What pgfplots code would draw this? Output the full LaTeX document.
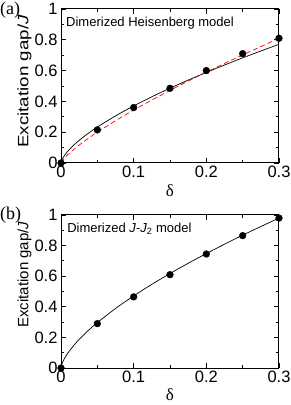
\documentclass[border=0pt]{standalone}
\usepackage{pgfplots}
\pgfplotsset{compat=1.18}
\usepackage{fontspec}
\setmainfont{Liberation Sans}
\newfontfamily\seriffont{Liberation Serif}
\pgfplotsset{
  gapstyle/.style={
    scale only axis, width=218pt,
    xmin=0, xmax=0.3, ymin=0, ymax=1,
    xtick={0,0.1,0.2,0.3}, ytick={0,0.2,0.4,0.6,0.8,1},
    minor x tick num=1, minor y tick num=1,
    tick align=inside, major tick length=5pt, minor tick length=3pt,
    tick style={line width=0.8pt, black},
    axis line style={line width=1pt},
    /pgf/number format/assume math mode=true,
    /pgf/number format/fixed,
    ticklabel style={font=\fontsize{16.5}{16.5}\selectfont},
    xticklabel style={yshift=1pt},
    yticklabel style={xshift=0pt},
    clip=false,
    xlabel={\seriffont\fontsize{17}{17}\selectfont δ},
  },
}
\begin{document}
\begin{tikzpicture}[x=1pt,y=1pt]
\useasboundingbox (0,0) rectangle (291,405);
% panel (a)
\begin{axis}[gapstyle, height=154pt, at={(61pt,242pt)}, anchor=south west,
  ylabel={\scalebox{1.25}[1]{\fontsize{15}{15}\selectfont Excitation gap/\textit{J}}},
  ylabel style={at={(axis description cs:-0.168,0.53)}, anchor=center},
  xlabel style={at={(axis description cs:0.5,-0.18)}, anchor=center},
]
\addplot[black, line width=0.7pt, smooth] coordinates {
(0,0) (0.001,0.0172) (0.0025,0.0317) (0.005,0.0502) (0.01,0.0798) (0.02,0.1268)
(0.03,0.166) (0.04,0.2012) (0.05,0.2334) (0.075,0.3058) (0.1,0.3705) (0.125,0.43)
(0.15,0.4856) (0.175,0.5382) (0.2,0.5882) (0.225,0.6362) (0.25,0.6827) (0.275,0.7272) (0.3,0.7707)};
\addplot[red, line width=0.7pt, dashed, dash pattern=on 5pt off 3pt, smooth] coordinates {
(0,0) (0.005,0.0332) (0.01,0.057) (0.02,0.098) (0.03,0.134) (0.04,0.168) (0.05,0.200)
(0.075,0.2745) (0.1,0.3435) (0.125,0.409) (0.15,0.4714) (0.175,0.5316) (0.2,0.590)
(0.225,0.6467) (0.25,0.702) (0.275,0.756) (0.3,0.81)};
\addplot[only marks, mark=*, mark size=3.4pt, black] coordinates {
(0,0) (0.05,0.215) (0.1,0.36) (0.15,0.485) (0.2,0.60) (0.25,0.71) (0.3,0.81)};
\node[anchor=west, font=\fontsize{13}{13}\selectfont, inner sep=0pt] at (axis description cs:0.023,0.909) {Dimerized Heisenberg model};
\end{axis}
\node[anchor=north west, inner sep=0pt, font=\seriffont\fontsize{18}{18}\selectfont] at (0,403) {(a)};
% panel (b)
\begin{axis}[gapstyle, height=153pt, at={(61pt,37pt)}, anchor=south west,
  ylabel={\fontsize{15}{15}\selectfont Excitation gap/\textit{J}},
  ylabel style={at={(axis description cs:-0.168,0.61)}, anchor=center},
  xlabel style={at={(axis description cs:0.5,-0.175)}, anchor=center},
]
\addplot[black, line width=0.7pt, smooth] coordinates {
(0,0) (0.001,0.0219) (0.0025,0.0402) (0.005,0.0639) (0.01,0.1015) (0.02,0.1612)
(0.03,0.2110) (0.04,0.2559) (0.05,0.2968) (0.075,0.3888) (0.1,0.4711) (0.125,0.5468)
(0.15,0.6174) (0.175,0.6843) (0.2,0.748) (0.225,0.809) (0.25,0.868) (0.275,0.9247) (0.3,0.98)};
\addplot[only marks, mark=*, mark size=3.4pt, black] coordinates {
(0,0) (0.05,0.29) (0.1,0.465) (0.15,0.61) (0.2,0.745) (0.25,0.865) (0.3,0.98)};
\node[anchor=west, font=\fontsize{13}{13}\selectfont, inner sep=0pt] at (axis description cs:0.028,0.908) {Dimerized \textit{J}-\textit{J}\textsubscript{2} model};
\end{axis}
\node[anchor=north west, inner sep=0pt, font=\seriffont\fontsize{18}{18}\selectfont] at (0,198) {(b)};
\end{tikzpicture}
\end{document}
